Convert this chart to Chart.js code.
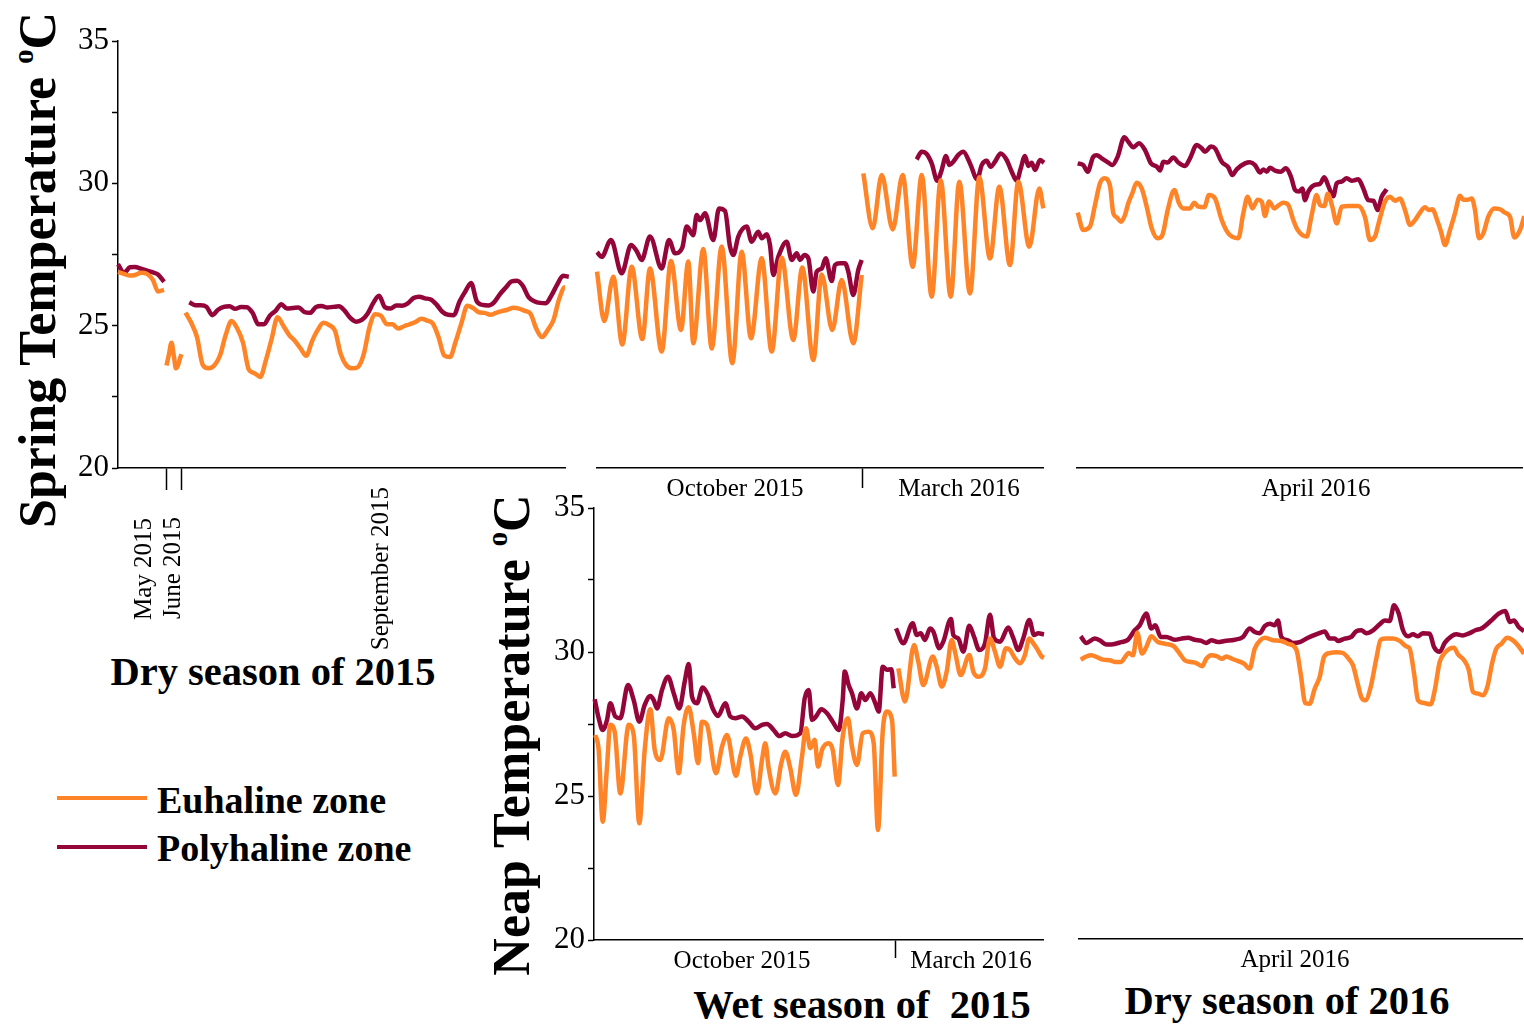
<!DOCTYPE html>
<html>
<head>
<meta charset="utf-8">
<script src="https://cdn.jsdelivr.net/npm/chart.js@4.4.0/dist/chart.umd.min.js"></script>
<style>
  body { margin: 0; background: #fff; width: 1524px; height: 1024px; position: relative; overflow: hidden; font-family: "Liberation Serif", serif; }
  canvas { position: absolute; }
  .t { position: absolute; white-space: pre; font-weight: bold; color: #000; line-height: 1; transform: translate(-50%, -50%); }
  .v { transform: translate(-50%, -50%) rotate(-90deg); }
  .leg { position: absolute; white-space: pre; font-weight: bold; font-size: 38px; line-height: 1; transform: translate(0, -50%); }
  .sw { position: absolute; width: 90px; height: 4px; }
  .deg { font-size: 0.55em; vertical-align: 0.75em; }
</style>
</head>
<body>
<div class="t v" style="left:37px;top:270px;font-size:52px">Spring Temperature <span class="deg">o</span>C</div>
<div class="t v" style="left:511px;top:735px;font-size:52px">Neap Temperature <span class="deg">o</span>C</div>
<div class="t" style="left:273px;top:672px;font-size:40.5px">Dry season of 2015</div>
<div class="t" style="left:862px;top:1005px;font-size:40.5px">Wet season of  2015</div>
<div class="t" style="left:1287px;top:1001px;font-size:40.5px">Dry season of 2016</div>
<div class="sw" style="left:57px;top:796px;background:#FF8428"></div>
<div class="leg" style="left:157px;top:800px">Euhaline zone</div>
<div class="sw" style="left:57px;top:845px;background:#94063A"></div>
<div class="leg" style="left:157px;top:848px">Polyhaline zone</div>

<script>
// ---- data: time in hours from the start of each panel, temperature in degC ----

// Spring, dry season 2015
const dryMayHours = [0, 6, 12, 17, 23, 29, 35, 40, 46];
const dryMayEuh = [26.89, 26.82, 26.76, 26.78, 26.86, 26.82, 26.6, 26.2, 26.26];
const dryMayPoly = [27.16, 26.85, 27.05, 27.06, 27.0, 26.93, 26.87, 26.8, 26.54];
const dryJuneHours = [48.5, 51, 53.5, 56, 58, 60, 62, 63.5];
const dryJuneEuh = [23.6, 24.0, 24.4, 23.9, 23.5, 23.6, 23.85, 24.0];
const drySepStep = 5.75;
const drySepEuhStart = 67.5;
const drySepPolyStart = 71.3;
const drySepEuh = [25.46, 25.1, 24.6, 23.62, 23.5, 23.6, 23.95, 24.68, 25.16, 24.9,
  24.4, 23.46, 23.33, 23.2, 23.8, 24.55, 25.3, 25.0, 24.68, 24.47,
  24.2, 23.94, 24.45, 24.85, 25.1, 25.02, 24.82, 24.0, 23.6, 23.5,
  23.55, 24.0, 24.95, 25.4, 25.35, 25.05, 25.05, 24.9, 24.98, 25.05,
  25.13, 25.24, 25.18, 25.08, 24.6, 23.95, 23.9, 24.45, 25.1, 25.7,
  25.62, 25.47, 25.45, 25.38, 25.45, 25.51, 25.56, 25.63, 25.6, 25.52,
  25.42, 24.9, 24.6, 24.85, 25.2, 25.95, 26.35, 25.85];
const drySepPoly = [25.82, 25.72, 25.72, 25.66, 25.37, 25.56, 25.66, 25.68, 25.59, 25.66,
  25.65, 25.45, 25.05, 25.05, 25.35, 25.52, 25.75, 25.6, 25.62, 25.64,
  25.48, 25.45, 25.65, 25.69, 25.64, 25.66, 25.68, 25.53, 25.27, 25.14,
  25.2, 25.42, 25.8, 26.05, 25.65, 25.6, 25.71, 25.7, 25.78, 25.97,
  26.02, 25.96, 25.92, 25.74, 25.49, 25.38, 25.37, 25.85, 26.2, 26.5,
  25.85, 25.73, 25.71, 25.82, 26.1, 26.33, 26.55, 26.58, 26.4, 26.0,
  25.86, 25.8, 25.79, 26.07, 26.45, 26.75, 26.72];

// Spring, wet season 2015 (October 2015 | March 2016)
const wetOctSpringEuhHours = [0, 7.3, 16.3, 25.3, 34.7, 45.3, 53, 64.7, 74, 84, 91.3, 96.3, 106.3, 114.7, 124.7,
  135.3, 144.7, 154, 164.7, 174.7, 184.7, 196.3, 205.3, 216.3, 224.7, 235.3, 244.7, 256.3, 264.7];
const wetOctSpringEuh = [26.9, 25.16, 26.72, 24.34, 27.07, 24.53, 27.01, 24.09, 27.27, 24.85, 27.25, 24.38, 27.69, 24.2, 27.78,
  23.68, 27.6, 24.56, 27.37, 24.09, 27.39, 24.5, 27.04, 23.79, 26.8, 24.85, 26.6, 24.38, 26.78];
const wetOctSpringPolyHours = [0, 4.7, 14, 24.7, 34, 39.7, 44.7, 53, 64.7, 72, 78, 85.3, 89.7, 96.3, 99.7, 103, 108,
  116.3, 122, 128, 133, 136.3, 141.3, 149.7, 154.7, 161.3, 164.7, 169.7, 173, 176.3, 181.3, 189.7, 194.7,
  199.7, 203, 207.3, 211.3, 216.3, 219.7, 224.7, 228.7, 234.7, 238, 243, 248, 251.3, 256.3, 261.3, 264.7];
const wetOctSpringPoly = [27.58, 27.42, 28.01, 26.84, 27.83, 27.62, 27.31, 28.13, 27.01, 28.01, 27.54, 27.74, 28.48, 28.18, 28.89, 28.71, 28.95,
  28.01, 29.12, 29.03, 27.78, 27.48, 28.13, 28.48, 27.95, 28.3, 28.07, 28.21, 27.83, 26.78, 27.42, 27.95, 27.31,
  27.54, 27.31, 27.48, 27.37, 26.2, 26.9, 27.01, 27.37, 26.57, 27.13, 27.19, 27.19, 26.9, 26.08, 26.96, 27.31];
const wetMarSpringEuhHours = [266.3, 275.7, 284.7, 295.7, 305.7, 315.7, 324.7, 334.7, 343.7, 353.7,
  362.3, 373, 382.3, 393, 402.3, 413, 421.3, 432.3, 442.3, 446.3];
const wetMarSpringEuh = [30.35, 28.42, 30.29, 28.38, 30.29, 27.07, 30.29, 26.02, 30.11, 26.02,
  30.06, 26.13, 30.21, 27.36, 29.88, 27.13, 30.06, 27.77, 29.82, 29.12];
const wetMarSpringPolyHours = [319.7, 324.7, 329.7, 334.7, 340.3, 344.7, 349, 352.3, 356.3, 361.3,
  366.3, 373, 380.3, 384.7, 389.7, 393.7, 398, 403.7, 409.7, 414.7, 419.7, 423.7, 428, 431.3, 434.7, 438, 443, 447];
const wetMarSpringPoly = [30.84, 31.11, 31.03, 30.7, 30.09, 30.47, 30.96, 30.64, 30.76, 31.0,
  31.11, 30.7, 30.14, 30.64, 30.79, 30.58, 30.76, 31.05, 30.82, 30.41, 30.09, 30.52, 30.96, 30.61, 30.72, 30.47, 30.82, 30.72];

// Spring, dry season 2016 (April 2016)
const aprSpringEuhHours = [0.7, 6.3, 13, 18, 23, 27.3, 33, 36.3, 39.7, 44, 48, 51.3, 55.3, 59.7, 64.7, 69.7, 74.7, 80.7, 85.3, 90.7,
  97.3, 102, 106.3, 113, 117.3, 121.3, 127.3, 132, 138, 144.7, 151.3, 161.3, 166.3, 170.7, 175.3, 180.7, 184.7, 188, 192, 197.3,
  202, 206.3, 211.3, 216.3, 220.7, 229.7, 234.7, 239.7, 243, 247.3, 250.7, 255.3, 259.7, 264.7, 271.3, 281.3, 288, 293, 298, 302,
  308, 313, 318, 323, 328, 333, 338, 343, 348, 352, 355.3, 360.7, 364, 368, 373, 378, 383, 386.3, 390.7, 394.7,
  398, 402, 406.3, 411.3, 417.3, 423, 428, 433, 437.3, 443, 447.3];
const aprSpringEuh = [28.97, 28.36, 28.48, 29.24, 30.0, 30.18, 29.91, 28.95, 28.81, 28.65, 28.89, 29.3, 29.65, 30.02, 29.82, 29.18, 28.42, 28.07, 28.18, 29.06,
  29.77, 29.3, 29.12, 29.12, 29.32, 29.18, 29.16, 29.59, 29.47, 28.71, 28.24, 28.07, 28.95, 29.53, 29.12, 29.42, 29.36, 28.85, 29.36, 29.12,
  29.24, 29.32, 29.24, 28.71, 28.36, 28.13, 28.89, 29.59, 29.24, 29.2, 29.63, 29.18, 28.59, 29.18, 29.2, 29.2, 28.81, 28.01, 28.13, 28.65,
  29.36, 29.53, 29.39, 29.47, 29.06, 28.54, 28.71, 28.97, 29.16, 29.06, 29.09, 28.65, 28.3, 27.83, 28.36, 28.95, 29.56, 29.42, 29.42, 29.47,
  29.06, 28.07, 28.24, 28.83, 29.12, 29.09, 28.97, 28.83, 28.1, 28.36, 28.85];
const aprSpringPolyHours = [0.7, 6.3, 10.7, 16.3, 19.7, 24.7, 31.3, 35.3, 40.7, 47.3, 51.3, 56.3, 62, 68, 74, 79.7, 83, 86.3, 90.7, 96.3,
  101.3, 108, 113, 119.7, 124.7, 128, 134, 138, 144.7, 151.3, 155.3, 159.7, 168, 173, 178, 183, 186.3, 189.7, 193, 198,
  204, 208.7, 214, 218, 222, 225.3, 228, 231.3, 237.3, 243, 247.3, 251.3, 256.3, 259.7, 264.7, 269.7, 274.7, 281.3, 286.3, 291.3,
  296.3, 300.7, 304.7, 309.7];
const aprSpringPoly = [30.70, 30.64, 30.41, 30.94, 30.99, 30.88, 30.73, 30.64, 30.94, 31.62, 31.46, 31.27, 31.41, 31.17, 30.70, 30.59, 30.45, 30.76, 30.73, 30.91,
  30.73, 30.61, 30.88, 31.35, 31.23, 31.11, 31.29, 31.23, 30.76, 30.56, 30.29, 30.49, 30.70, 30.74, 30.64, 30.38, 30.49, 30.41, 30.55, 30.45,
  30.41, 30.53, 30.23, 29.77, 29.71, 29.82, 29.41, 29.71, 29.94, 29.98, 30.21, 29.91, 29.55, 30.0, 30.06, 30.18, 30.09, 30.14, 29.82, 29.41,
  29.39, 29.06, 29.53, 29.79];

// Neap, wet season 2015 (October 2015 | March 2016)
const wetOctNeapEuhHours = [1.3, 4.7, 8.7, 13, 16.3, 20.7, 26.3, 34.7, 39.7, 45.3, 50.7, 56.3, 60.7, 66.3, 74.7, 79.7, 84.7, 89.7, 94.7, 99.7,
  104, 108, 113, 122, 128, 133, 142, 146.3, 152, 156.3, 163, 168, 171.3, 174.7, 181.3, 187.3, 191.3, 196.3, 202, 208,
  212, 216.3, 220.7, 224, 228, 234.7, 238.7, 244, 248.7, 254, 258, 263, 268.7, 274.7, 279.7, 284, 288.7, 293, 298, 300.7];
const wetOctNeapEuh = [27.12, 26.6, 24.11, 26.02, 27.47, 27.23, 25.09, 27.47, 27.12, 24.05, 26.6, 28.01, 26.6, 26.25, 27.7, 27.3, 25.79, 27.47, 28.08, 27.18,
  26.14, 27.58, 27.47, 25.79, 26.71, 27.12, 25.7, 26.37, 27.0, 26.48, 25.09, 26.25, 26.83, 25.96, 25.09, 26.14, 26.54, 25.96, 25.04, 26.37,
  27.35, 26.66, 26.95, 26.02, 26.6, 26.83, 26.6, 25.38, 27.06, 27.7, 26.71, 26.08, 27.18, 27.23, 26.83, 23.82, 27.23, 27.93, 27.64, 25.67];
const wetOctNeapPolyHours = [0.7, 4.7, 8.7, 13, 16.3, 21.3, 26.3, 34, 39.7, 45.3, 50.7, 56.3, 59.7, 63, 68, 74, 79.7, 85.3, 90.7, 94.7,
  98, 103, 108.7, 114, 118.7, 124, 131.3, 136.3, 141.3, 148, 154.7, 161.3, 168, 173, 179.7, 185.3, 191.3, 198, 206.3, 210.7,
  214.7, 218, 222, 227.3, 233, 238.7, 244.7, 248.7, 250.7, 254.7, 258, 263, 267.3, 271.3, 276.3, 281.3, 284.7, 288.7, 293, 297.3, 299.7];
const wetOctNeapPoly = [28.36, 27.7, 27.29, 27.64, 28.22, 27.76, 27.7, 28.85, 28.33, 27.58, 28.16, 28.47, 28.33, 28.04, 28.68, 29.14, 28.57, 28.04, 28.97, 29.58,
  28.45, 28.22, 28.77, 28.51, 28.04, 27.78, 28.22, 27.76, 27.7, 27.76, 27.58, 27.35, 27.47, 27.5, 27.29, 27.08, 27.18, 27.08, 27.18, 28.39,
  28.68, 27.64, 27.76, 28.01, 27.87, 27.58, 27.29, 28.33, 29.32, 28.85, 28.57, 28.04, 28.57, 28.33, 28.57, 28.22, 27.93, 29.49, 29.38, 29.4, 28.74];
const wetMarNeapEuhHours = [304.3, 311, 320, 324.3, 329.3, 338.7, 342.7, 347.7, 352.7, 357.7, 361, 366.7, 375.3, 379.3, 384.3,
  391, 396, 401, 406, 412, 416, 421, 426, 431, 435.3, 439.3, 442.7, 447.7, 450];
const wetMarNeapEuh = [29.43, 28.28, 30.24, 29.66, 28.85, 29.84, 29.49, 28.8, 29.32, 30.42, 30.01, 29.2, 29.9, 29.32, 29.14,
  29.43, 30.47, 30.01, 29.49, 30.13, 30.07, 29.78, 29.61, 29.9, 30.47, 30.3, 30.13, 29.84, 29.8];
const wetMarNeapPolyHours = [302, 309.3, 318.7, 322.7, 326.7, 331, 336, 339.3, 345.3, 349.3, 357, 359.3, 364.3, 369.3, 375.3,
  380, 385.3, 391, 396, 400, 406, 414.3, 419.3, 424.3, 429.3, 435.3, 440, 444.3, 450];
const wetMarNeapPoly = [30.82, 30.3, 31.0, 30.59, 30.65, 30.42, 30.82, 30.71, 30.13, 30.36, 31.15, 30.59, 30.47, 30.01, 30.91,
  30.53, 30.07, 30.3, 31.29, 30.48, 30.36, 30.85, 30.48, 30.07, 30.48, 31.11, 30.59, 30.65, 30.61];

// Neap, dry season 2016 (April 2016)
const aprNeapEuhHours = [1.7, 7.3, 12.3, 19, 24, 30.7, 35.7, 42.3, 45.7, 49.7, 54, 58.3, 63, 67.3, 72.3, 79, 86.3, 95, 100.7, 105.7,
  112.3, 117.3, 123, 127.3, 132.3, 138.3, 143, 147.3, 153, 159, 165, 170.7, 175.7, 181.7, 186.3, 194, 202.3, 209, 217.3, 221.7,
  226.3, 230.7, 235.7, 240.7, 245, 250.7, 257.3, 264, 269.7, 274, 278.3, 282.3, 286.3, 291.7, 297.3, 301.7, 307.3, 314, 320.7, 327.3,
  330.7, 335, 339, 344, 351.7, 355.7, 360.7, 365.7, 370.7, 375, 379, 385, 389.7, 394, 399, 404, 408.3, 413, 417.3, 422.3,
  428.3, 434, 439, 445];
const aprNeapEuh = [29.7, 29.81, 29.85, 29.77, 29.7, 29.68, 29.62, 29.62, 29.77, 29.93, 29.85, 30.63, 29.91, 30.14, 30.51, 30.31, 30.25, 30.16, 29.91, 29.68,
  29.62, 29.58, 29.47, 29.73, 29.85, 29.81, 29.73, 29.81, 29.73, 29.65, 29.56, 29.39, 30.08, 30.39, 30.46, 30.37, 30.35, 30.25, 30.05, 29.21,
  28.19, 28.17, 28.69, 29.1, 29.79, 29.93, 29.96, 29.93, 29.73, 29.5, 28.92, 28.4, 28.29, 28.75, 29.73, 30.39, 30.43, 30.43, 30.35, 30.16,
  30.08, 29.24, 28.29, 28.2, 28.15, 28.63, 29.62, 29.93, 30.08, 30.11, 29.88, 29.68, 29.35, 28.58, 28.52, 28.46, 28.75, 29.56, 30.08, 30.25,
  30.46, 30.37, 30.19, 29.91];
const aprNeapPolyHours = [1.7, 7.3, 15.7, 20.7, 27.3, 32.3, 42.3, 49, 55.7, 60.7, 67.3, 72.3, 76.3, 81.7, 87.3, 95.7, 102.3, 109, 115.7, 122.3,
  127.3, 132.3, 139, 145.7, 155.7, 164, 170.7, 175.7, 180.7, 185.7, 190.7, 195.7, 199, 202.3, 209, 214, 220.7, 229, 239, 245.7,
  250.7, 255.7, 259, 265.7, 272.3, 277.3, 282.3, 287.3, 294, 300.7, 305.7, 310.7, 315, 319.7, 324, 329, 334, 339, 344, 350.7,
  355, 360.7, 365.7, 372.3, 377.3, 384, 390.7, 396.3, 402.3, 412.3, 419.7, 426.3, 430.7, 435, 439.7, 445];
const aprNeapPoly = [30.51, 30.28, 30.43, 30.37, 30.23, 30.23, 30.31, 30.39, 30.72, 30.89, 31.3, 30.78, 30.89, 30.49, 30.49, 30.39, 30.43, 30.46, 30.39, 30.35,
  30.28, 30.37, 30.31, 30.35, 30.39, 30.49, 30.78, 30.66, 30.62, 30.86, 30.95, 30.89, 31.06, 30.49, 30.37, 30.28, 30.31, 30.46, 30.6, 30.68,
  30.43, 30.43, 30.35, 30.43, 30.49, 30.69, 30.72, 30.62, 30.72, 30.93, 31.06, 31.04, 31.59, 31.3, 30.72, 30.51, 30.58, 30.51, 30.62, 30.6,
  30.14, 29.97, 30.28, 30.51, 30.58, 30.54, 30.62, 30.72, 30.78, 31.06, 31.3, 31.39, 31.01, 31.06, 30.83, 30.69];

const yTickMin = 20, yTickMax = 35, yTickStep = 2.5;

// ---- styling ----
const EUH = '#FF8428';
const POLY = '#94063A';
const serif = '"Liberation Serif", "Times New Roman", serif';

function stepHours(start, step, n) {
  return Array.from({ length: n }, (_, i) => start + i * step);
}

function line(hours, temps, color) {
  return {
    data: hours.map((h, i) => ({ x: h, y: temps[i] })),
    borderColor: color,
    borderWidth: 4.5,
    pointRadius: 0,
    fill: false,
    clip: false,
    cubicInterpolationMode: 'monotone'
  };
}

const monthLabelPlugin = {
  id: 'monthLabels',
  afterDraw(chart, args, opts) {
    const xs = chart.scales.x;
    const ctx = chart.ctx;
    ctx.save();
    ctx.fillStyle = '#000';
    ctx.font = '25px ' + serif;
    ctx.textBaseline = 'middle';
    (opts.items || []).forEach(it => {
      const x = xs.getPixelForValue(it.at);
      if (it.rotated) {
        ctx.save();
        ctx.translate(x, xs.top + it.drop);
        ctx.rotate(-Math.PI / 2);
        ctx.textAlign = 'right';
        ctx.fillText(it.text, 0, 0);
        ctx.restore();
      } else {
        ctx.textAlign = 'center';
        ctx.fillText(it.text, x, xs.top + it.drop);
      }
    });
    ctx.restore();
  }
};

// euhaline first so it is painted on top
const panels = [
  {
    box: { l: 118, t: 41, r: 565, b: 468 }, yAxis: true, xMax: 447, dividers: [48, 63], tickLen: 22, labelRoom: 200,
    labels: [
      { at: 26, text: 'May 2015', rotated: true, drop: 50 },
      { at: 55.5, text: 'June 2015', rotated: true, drop: 49 },
      { at: 263, text: 'September 2015', rotated: true, drop: 19 }
    ],
    series: [
      line(dryMayHours, dryMayEuh, EUH),
      line(dryJuneHours, dryJuneEuh, EUH),
      line(stepHours(drySepEuhStart, drySepStep, drySepEuh.length), drySepEuh, EUH),
      line(dryMayHours, dryMayPoly, POLY),
      line(stepHours(drySepPolyStart, drySepStep, drySepPoly.length), drySepPoly, POLY)
    ]
  },
  {
    box: { l: 597, t: 41, r: 1043, b: 468 }, yAxis: false, xMax: 446, dividers: [265], tickLen: 20, labelRoom: 45,
    labels: [
      { at: 138, text: 'October 2015', drop: 21 },
      { at: 362, text: 'March 2016', drop: 21 }
    ],
    series: [
      line(wetOctSpringEuhHours, wetOctSpringEuh, EUH),
      line(wetMarSpringEuhHours, wetMarSpringEuh, EUH),
      line(wetOctSpringPolyHours, wetOctSpringPoly, POLY),
      line(wetMarSpringPolyHours, wetMarSpringPoly, POLY)
    ]
  },
  {
    box: { l: 1077, t: 41, r: 1522, b: 468 }, yAxis: false, xMax: 445, dividers: [], tickLen: 20, labelRoom: 45,
    labels: [{ at: 239, text: 'April 2016', drop: 21 }],
    series: [
      line(aprSpringEuhHours, aprSpringEuh, EUH),
      line(aprSpringPolyHours, aprSpringPoly, POLY)
    ]
  },
  {
    box: { l: 594, t: 508, r: 1043, b: 940 }, yAxis: true, xMax: 449, dividers: [301], tickLen: 18, labelRoom: 45,
    labels: [
      { at: 148, text: 'October 2015', drop: 21 },
      { at: 377, text: 'March 2016', drop: 21 }
    ],
    series: [
      line(wetOctNeapEuhHours, wetOctNeapEuh, EUH),
      line(wetMarNeapEuhHours, wetMarNeapEuh, EUH),
      line(wetOctNeapPolyHours, wetOctNeapPoly, POLY),
      line(wetMarNeapPolyHours, wetMarNeapPoly, POLY)
    ]
  },
  {
    box: { l: 1079, t: 507, r: 1522, b: 939 }, yAxis: false, xMax: 443, dividers: [], tickLen: 18, labelRoom: 45,
    labels: [{ at: 216, text: 'April 2016', drop: 21 }],
    series: [
      line(aprNeapEuhHours, aprNeapEuh, EUH),
      line(aprNeapPolyHours, aprNeapPoly, POLY)
    ]
  }
];

panels.forEach(p => {
  const padL = p.yAxis ? 70 : 10, padR = 14, padT = 30, padB = p.labelRoom;
  const w = p.box.r - p.box.l + padL + padR;
  const h = p.box.b - p.box.t + padT + padB;
  const canvas = document.createElement('canvas');
  canvas.width = w;
  canvas.height = h;
  canvas.style.left = (p.box.l - padL) + 'px';
  canvas.style.top = (p.box.t - padT) + 'px';
  canvas.style.width = w + 'px';
  canvas.style.height = h + 'px';
  document.body.appendChild(canvas);

  new Chart(canvas.getContext('2d'), {
    type: 'line',
    data: { datasets: p.series },
    plugins: [monthLabelPlugin],
    options: {
      responsive: false,
      animation: false,
      events: [],
      layout: { padding: { left: p.yAxis ? 0 : padL, right: padR, top: padT, bottom: 0 } },
      plugins: {
        legend: { display: false },
        tooltip: { enabled: false },
        monthLabels: { items: p.labels }
      },
      scales: {
        x: {
          type: 'linear',
          min: 0,
          max: p.xMax,
          afterBuildTicks: s => { s.ticks = p.dividers.map(v => ({ value: v })); },
          afterFit: s => { s.height = padB; },
          ticks: { display: false },
          grid: { drawOnChartArea: false, drawTicks: true, tickLength: p.tickLen, tickColor: '#000', tickWidth: 1.5 },
          border: { display: true, color: '#000', width: 1.5 }
        },
        y: {
          display: p.yAxis,
          min: yTickMin,
          max: yTickMax,
          afterFit: s => { s.width = p.yAxis ? padL : 0; },
          ticks: {
            stepSize: yTickStep,
            padding: 3,
            color: '#000',
            font: { family: serif, size: 31 },
            callback: v => (v % 5 === 0 ? v : '')
          },
          grid: { drawOnChartArea: false, drawTicks: true, tickLength: 6, tickColor: '#000', tickWidth: 1.5 },
          border: { display: true, color: '#000', width: 1.5 }
        }
      }
    }
  });
});
</script>
</body>
</html>
